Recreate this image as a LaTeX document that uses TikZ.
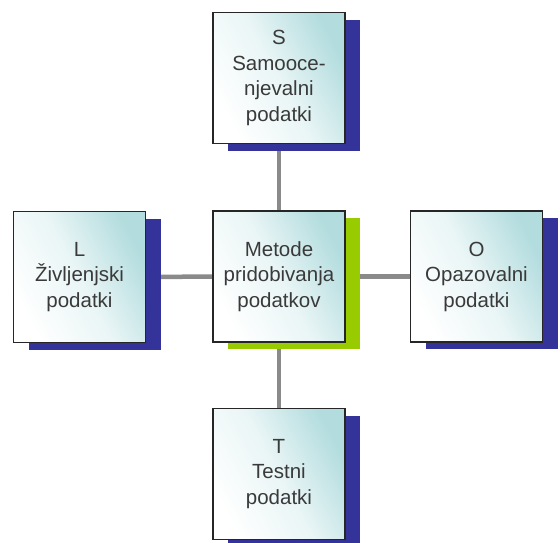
\documentclass[tikz,border=0pt]{standalone}
\usepackage{fontspec}
\setmainfont{Liberation Sans}
\usetikzlibrary{shadows,backgrounds}
\definecolor{boxteal}{HTML}{B2DCDE}
\definecolor{navyshadow}{HTML}{333399}
\definecolor{greenshadow}{HTML}{99CC00}
\definecolor{linkgray}{HTML}{8A8A8A}
\definecolor{textgray}{HTML}{3A3A3A}
\tikzset{
  infobox/.style={draw=black!85, line width=1.1pt, minimum width=132pt, minimum height=131pt,
    inner sep=0pt, align=center, text=textgray,
    font=\fontsize{20.5}{25.5}\selectfont,
    top color=boxteal, bottom color=white, middle color=boxteal!28, shading angle=-62},
  navybox/.style={infobox, general shadow={fill=navyshadow, shadow xshift=15pt, shadow yshift=-7pt}},
  greenbox/.style={infobox, general shadow={fill=greenshadow, shadow xshift=15pt, shadow yshift=-7pt}},
  link/.style={draw=linkgray, line width=4.5pt}
}
\begin{document}
\begin{tikzpicture}[x=1pt,y=-1pt]
  \useasboundingbox (0,0) rectangle (560,542);
  \node[greenbox] (c) at (279,276.5) {Metode\\pridobivanja\\podatkov};
  \node[navybox] (s) at (279,78) {S\\Samooce-\\njevalni\\podatki};
  \node[navybox] (l) at (79.5,277) {L\\Življenjski\\podatki};
  \node[navybox] (o) at (476.5,276.5) {O\\Opazovalni\\podatki};
  \node[navybox] (t) at (279,474) {T\\Testni\\podatki};
  \begin{pgfonlayer}{background}
    \fill[white] (0,0) rectangle (560,542);
    \draw[link] (c) -- (s);
    \draw[link] (c) -- (l);
    \draw[link] (c) -- (o);
    \draw[link] (c) -- (t);
  \end{pgfonlayer}
\end{tikzpicture}
\end{document}
